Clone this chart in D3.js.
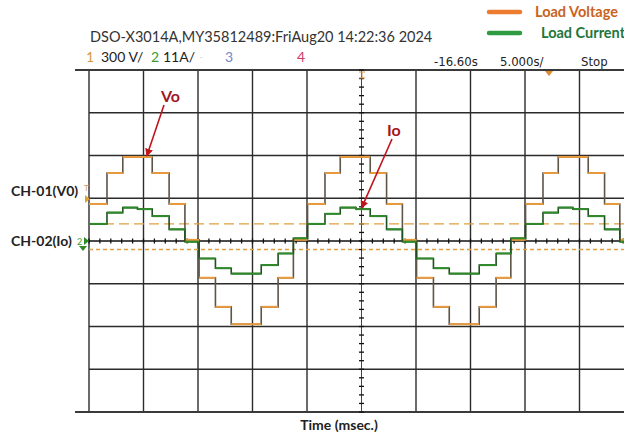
<!DOCTYPE html>
<html><head><meta charset="utf-8">
<script src="https://cdnjs.cloudflare.com/ajax/libs/d3/7.8.5/d3.min.js"></script>
<style>
html,body{margin:0;padding:0;background:#fff;}
svg{display:block;}
</style>
</head><body>
<div id="chart"></div>
<script>
// ---- data ----
// breakpoints (ms) of the stepped load voltage, level held until the next breakpoint
const voltageTimes = [0, 1.65, 3.1, 5.8, 7.35, 8.8, 10.1, 11.6, 13.05, 15.8, 17.35, 18.75,
  20.05, 21.65, 23.05, 25.8, 27.3, 28.75, 30.05, 31.6, 33.05, 35.8, 37.35, 38.7,
  40.05, 41.65, 43.05, 45.8, 47.3, 48.7, 50];
const voltageValues = [260, 477, 590, 477, 260, 8, -258, -462, -584, -462, -258, 8,
  260, 477, 590, 477, 260, 8, -258, -462, -584, -462, -258, 8,
  260, 477, 590, 477, 260, 8, 8];
// load current breakpoints (ms) and levels (A)
const currentTimes = [0, 1.65, 3.1, 4.45, 5.8, 7.35, 8.8, 10.1, 11.6, 13.05, 15.8, 17.35, 18.75,
  20.05, 21.65, 23.05, 24.5, 25.8, 27.3, 28.75, 30.05, 31.6, 33.05, 35.8, 37.35, 38.7,
  40.05, 41.65, 43.05, 44.4, 45.8, 47.3, 48.7, 50];
const currentValues = [4.4, 7.3, 8.6, 8.2, 6.4, 3.0, -0.2, -4.5, -7.0, -8.4, -6.2, -3.2, 0.7,
  4.4, 7.0, 8.6, 8.2, 6.4, 3.0, -0.2, -4.5, -7.0, -8.4, -6.2, -3.2, 0.7,
  4.4, 7.3, 8.6, 8.2, 6.4, 3.0, -0.2, -0.2];
const timeDivisions = [0, 5, 10, 15, 20, 25, 30, 35, 40, 45, 50];
const voltDivisions = [-1200, -900, -600, -300, 0, 300, 600, 900, 1200];
const cursorLevels = [120, -60]; // orange dashed reference levels (V)

// ---- layout ----
const W = 624, H = 438;
const svg = d3.select("#chart").append("svg").attr("width", W).attr("height", H);
const x = d3.scaleLinear().domain([0, 50]).range([89, 634]);
const yV = d3.scaleLinear().domain([-1200, 1200]).range([412, 70]);
const yI = d3.scaleLinear().domain([-44, 44]).range([412, 70]);

svg.append("clipPath").attr("id", "plot").append("rect")
  .attr("x", 89).attr("y", 60).attr("width", W - 89).attr("height", 360);

// grid
const xc = x(25), yc = yV(0);
const grid = svg.append("g");
grid.selectAll("line.v").data(timeDivisions.filter(d => d !== 25 && d !== 50)).join("line")
  .attr("x1", d => x(d)).attr("x2", d => x(d)).attr("y1", yV(1200)).attr("y2", yV(-1200))
  .attr("stroke", "#2b2b2b").attr("stroke-width", 1.4);
grid.selectAll("line.h").data(voltDivisions.filter(d => Math.abs(d) !== 1200 && d !== 0)).join("line")
  .attr("x1", x(0)).attr("x2", W).attr("y1", d => yV(d)).attr("y2", d => yV(d))
  .attr("stroke", "#2b2b2b").attr("stroke-width", 1.4);
// border top & bottom
[1200, -1200].forEach(v => {
  grid.append("line").attr("x1", 75).attr("x2", W).attr("y1", yV(v)).attr("y2", yV(v))
    .attr("stroke", "#3a3a3a").attr("stroke-width", 2.2);
});
// centre axes with ticks
grid.append("line").attr("x1", x(0)).attr("x2", W).attr("y1", yc).attr("y2", yc)
  .attr("stroke", "#111").attr("stroke-width", 1.4);
grid.append("line").attr("x1", xc).attr("x2", xc).attr("y1", yV(1200)).attr("y2", yV(-1200))
  .attr("stroke", "#444").attr("stroke-width", 1);
const minorX = d3.range(0, 51, 1);
grid.selectAll("line.tx").data(minorX).join("line")
  .attr("x1", d => x(d)).attr("x2", d => x(d)).attr("y1", yc - 2.5).attr("y2", yc + 2.5)
  .attr("stroke", "#111").attr("stroke-width", 1.3);
const minorY = d3.range(-1200, 1201, 60);
grid.selectAll("line.ty").data(minorY).join("line")
  .attr("x1", xc - 2.5).attr("x2", xc + 2.5).attr("y1", d => yV(d)).attr("y2", d => yV(d))
  .attr("stroke", "#111").attr("stroke-width", 1.3);

// dashed cursors
grid.append("line").attr("x1", x(0)).attr("x2", W)
  .attr("y1", yV(cursorLevels[0])).attr("y2", yV(cursorLevels[0]))
  .attr("stroke", "#e0a040").attr("stroke-width", 1.4).attr("stroke-dasharray", "10,5");
grid.append("line").attr("x1", x(0)).attr("x2", W)
  .attr("y1", yV(cursorLevels[1])).attr("y2", yV(cursorLevels[1]))
  .attr("stroke", "#e0a040").attr("stroke-width", 1.4).attr("stroke-dasharray", "4,3");

// traces
const vData = voltageTimes.map((t, i) => ({t, v: voltageValues[i]}));
const iData = currentTimes.map((t, i) => ({t, v: currentValues[i]}));
const traces = svg.append("g").attr("clip-path", "url(#plot)");
function stepTrace(data, yScale, edgeColor, flatColor, w) {
  const line = d3.line().x(d => x(d.t)).y(d => yScale(d.v)).curve(d3.curveStepAfter);
  traces.append("path").datum(data).attr("d", line).attr("fill", "none")
    .attr("stroke", edgeColor).attr("stroke-width", 1.6);
  const segs = data.slice(0, -1).map((d, i) => ({t0: d.t, t1: data[i + 1].t, v: d.v}));
  traces.selectAll(null).data(segs).join("line")
    .attr("x1", d => x(d.t0)).attr("x2", d => x(d.t1))
    .attr("y1", d => yScale(d.v)).attr("y2", d => yScale(d.v))
    .attr("stroke", flatColor).attr("stroke-width", w);
}
stepTrace(vData, yV, "#5e5448", "#e89a3c", 2);
stepTrace(iData, yI, "#1f4e1f", "#2e8a2a", 2);

// header texts
const font = "Lato, 'Open Sans', sans-serif";
svg.append("text").attr("x", 90).attr("y", 42).attr("font-family", font).attr("font-size", 14.5)
  .attr("fill", "#333").text("DSO-X3014A,MY35812489:FriAug20 14:22:36 2024");
const row = svg.append("g").attr("font-family", font).attr("font-size", 14);
row.append("text").attr("x", 86).attr("y", 62).attr("fill", "#d8963a").text("1");
row.append("text").attr("x", 101).attr("y", 62).attr("fill", "#222").text("300 V/");
row.append("text").attr("x", 151).attr("y", 62).attr("fill", "#3a9a2a").text("2");
row.append("text").attr("x", 163).attr("y", 62).attr("fill", "#222").text("11A/");
row.append("text").attr("x", 200).attr("y", 60).attr("fill", "#bbb").attr("font-size", 8).text("·");
row.append("text").attr("x", 225).attr("y", 62).attr("fill", "#7486c4").text("3");
row.append("text").attr("x", 297).attr("y", 62).attr("fill", "#d03a6a").text("4");
const narrow = "'Liberation Sans Narrow', 'DejaVu Sans Condensed', sans-serif";
const row2 = svg.append("g").attr("font-family", narrow).attr("font-size", 13).attr("fill", "#222");
row2.append("text").attr("x", 434).attr("y", 66).text("-16.60s");
row2.append("text").attr("x", 500).attr("y", 66).text("5.000s/");
row2.append("text").attr("x", 581).attr("y", 66).text("Stop");
// trigger markers
svg.append("path").attr("d", "M545,71 L553,71 L549,76 Z").attr("fill", "#e08a30");
svg.append("path").attr("d", "M359,72 L365,72 M362,72 L362,78 M359,78 L365,78")
  .attr("stroke", "#d89a50").attr("stroke-width", 1);

// legend
const leg = svg.append("g").attr("font-family", font).attr("font-weight", 700).attr("font-size", 14.5);
leg.append("line").attr("x1", 489).attr("x2", 520).attr("y1", 12).attr("y2", 12)
  .attr("stroke", "#ec7c30").attr("stroke-width", 4.5).attr("stroke-linecap", "round");
leg.append("text").attr("x", 535).attr("y", 17).attr("fill", "#c8641e").text("Load Voltage");
leg.append("line").attr("x1", 489).attr("x2", 520).attr("y1", 33).attr("y2", 33)
  .attr("stroke", "#2e9a42").attr("stroke-width", 4.5).attr("stroke-linecap", "round");
leg.append("text").attr("x", 541).attr("y", 38).attr("fill", "#23763a").text("Load Current");

// channel labels
const ch = svg.append("g").attr("font-family", font).attr("font-weight", 700).attr("font-size", 14).attr("fill", "#222");
ch.append("text").attr("x", 11).attr("y", 196).text("CH-01(V0)");
ch.append("text").attr("x", 11).attr("y", 246).text("CH-02(Io)");
svg.append("text").attr("x", 84).attr("y", 191).attr("font-family", font).attr("font-size", 8)
  .attr("fill", "#d8a050").text("T");
svg.append("path").attr("d", "M85,195 L90,199 L85,203 Z").attr("fill", "#e0a030");
svg.append("text").attr("x", 77).attr("y", 245).attr("font-family", font).attr("font-size", 9)
  .attr("fill", "#3a9a2a").text("2");
svg.append("path").attr("d", "M84,237 L89,241 L84,245 Z").attr("fill", "#2e8a2a");
svg.append("path").attr("d", "M79,246 L87,246 L83,251 Z").attr("fill", "#2e8a2a");

// annotations
const defs = svg.append("defs");
defs.append("marker").attr("id", "arr").attr("viewBox", "0 0 10 10").attr("refX", 9).attr("refY", 5)
  .attr("markerWidth", 5).attr("markerHeight", 5).attr("orient", "auto")
  .append("path").attr("d", "M0,0 L10,5 L0,10 Z").attr("fill", "#c0141c");
const ann = svg.append("g").attr("font-family", font).attr("font-weight", 700).attr("font-size", 16).attr("fill", "#a3161c");
ann.append("text").attr("x", 161).attr("y", 102).text("Vo");
ann.append("text").attr("x", 387).attr("y", 136).text("Io");
svg.append("line").attr("x1", 164).attr("y1", 105).attr("x2", x(5.3)).attr("y2", yV(590) - 1)
  .attr("stroke", "#c0141c").attr("stroke-width", 1.6).attr("marker-end", "url(#arr)");
svg.append("line").attr("x1", 392).attr("y1", 139).attr("x2", x(25)).attr("y2", yI(8.2) - 1)
  .attr("stroke", "#c0141c").attr("stroke-width", 1.6).attr("marker-end", "url(#arr)");

// axis title
svg.append("text").attr("x", 339).attr("y", 430).attr("text-anchor", "middle")
  .attr("font-family", font).attr("font-weight", 700).attr("font-size", 14).attr("fill", "#222")
  .text("Time (msec.)");
</script>
</body></html>
